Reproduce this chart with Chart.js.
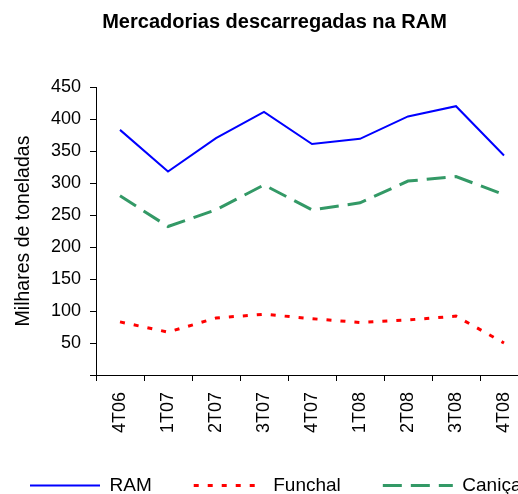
<!DOCTYPE html>
<html>
<head>
<meta charset="utf-8">
<script src="https://cdn.jsdelivr.net/npm/chart.js@4"></script>
<style>
  html, body { margin: 0; padding: 0; overflow: hidden; background: #fff; }
  #wrap { width: 549px; height: 505px; }
</style>
</head>
<body>
<div id="wrap"><canvas id="chart"></canvas></div>
<script>
// Trimestres
const quarters = ['4T06', '1T07', '2T07', '3T07', '4T07', '1T08', '2T08', '3T08', '4T08'];
// Milhares de toneladas
const ramValues = [383, 318, 370, 411, 361, 369, 404, 420, 343];
const funchalValues = [83, 67, 89, 95, 88, 82, 86, 92, 50];
const canicalValues = [280, 232, 258, 297, 258, 269, 303, 310, 282];
const yMax = 450;
const yStep = 50;

const fontFamily = '"Liberation Sans", Arial, sans-serif';

// a legenda original é mais larga que o gráfico (fica cortada à direita),
// por isso evitamos que o Chart.js a parta em duas linhas
const wideLegend = {
    id: 'wideLegend',
    beforeLayout(chart) {
        const lg = chart.legend;
        if (lg && !lg._wide) {
            const orig = lg.update.bind(lg);
            lg.update = (w, h, m) => orig(w + 200, h, m);
            lg._wide = true;
        }
    },
    afterLayout(chart) {
        const lg = chart.legend;
        if (lg) {
            lg.left = -12;
            lg.right = 900;
        }
    }
};

// legenda com o traço (tracejado) de cada série
const legendLabels = (chart) => {
    const items = Chart.defaults.plugins.legend.labels.generateLabels(chart);
    items.forEach(item => {
        const ds = chart.data.datasets[item.datasetIndex];
        item.lineDash = ds.borderDash || [];
        item.lineWidth = ds.borderWidth;
        item.strokeStyle = ds.borderColor;
        item.fillStyle = ds.borderColor;
    });
    return items;
};

const ctx = document.getElementById('chart').getContext('2d');

new Chart(ctx, {
    type: 'line',
    data: {
        labels: quarters,
        datasets: [
            {
                label: 'RAM',
                data: ramValues,
                borderColor: '#0000FF',
                backgroundColor: '#0000FF',
                borderWidth: 2,
                pointRadius: 0,
                tension: 0
            },
            {
                label: 'Funchal',
                data: funchalValues,
                borderColor: '#FF0000',
                backgroundColor: '#FF0000',
                borderWidth: 3,
                borderDash: [5, 9],
                pointRadius: 0,
                tension: 0
            },
            {
                label: 'Caniçal',
                data: canicalValues,
                borderColor: '#339966',
                backgroundColor: '#339966',
                borderWidth: 3,
                borderDash: [19, 9],
                pointRadius: 0,
                tension: 0
            }
        ]
    },
    options: {
        responsive: true,
        maintainAspectRatio: false,
        animation: false,
        layout: {
            padding: { left: 0, right: 0, top: 0, bottom: 0 }
        },
        plugins: {
            title: {
                display: true,
                text: 'Mercadorias descarregadas na RAM',
                color: '#000',
                font: { family: fontFamily, size: 20, weight: 'bold' },
                padding: { top: 10, bottom: 53 }
            },
            legend: {
                position: 'bottom',
                align: 'start',
                labels: {
                    color: '#000',
                    font: { family: fontFamily, size: 19 },
                    usePointStyle: true,
                    pointStyle: 'line',
                    pointStyleWidth: 70,
                    boxHeight: 19,
                    padding: 42,
                    generateLabels: legendLabels
                }
            },
            tooltip: { enabled: false }
        },
        scales: {
            x: {
                offset: true,
                grid: {
                    offset: true,
                    drawOnChartArea: false,
                    drawTicks: true,
                    tickLength: 6,
                    color: '#000'
                },
                border: { display: true, color: '#000', width: 1 },
                ticks: {
                    color: '#000',
                    font: { family: fontFamily, size: 18 },
                    minRotation: 90,
                    maxRotation: 90,
                    autoSkip: false,
                    padding: 11
                },
                afterFit: (scale) => { scale.height = 59; }
            },
            y: {
                min: 0,
                max: yMax,
                grid: {
                    drawOnChartArea: false,
                    drawTicks: true,
                    tickLength: 6,
                    color: '#000'
                },
                border: { display: true, color: '#000', width: 1 },
                ticks: {
                    stepSize: yStep,
                    autoSkip: false,
                    color: '#000',
                    font: { family: fontFamily, size: 18 },
                    padding: 9,
                    callback: (value) => value === 0 ? '' : value
                },
                title: {
                    display: true,
                    text: 'Milhares de toneladas',
                    color: '#000',
                    font: { family: fontFamily, size: 19.5 },
                    padding: { top: 12, bottom: 0 }
                },
                afterFit: (scale) => { scale.width = 96; }
            },
            // margem à direita da área do gráfico
            yPad: {
                position: 'right',
                display: true,
                grid: { display: false },
                border: { display: false },
                ticks: { display: false },
                afterFit: (scale) => { scale.width = 21; }
            }
        }
    },
    plugins: [wideLegend]
});
</script>
</body>
</html>
